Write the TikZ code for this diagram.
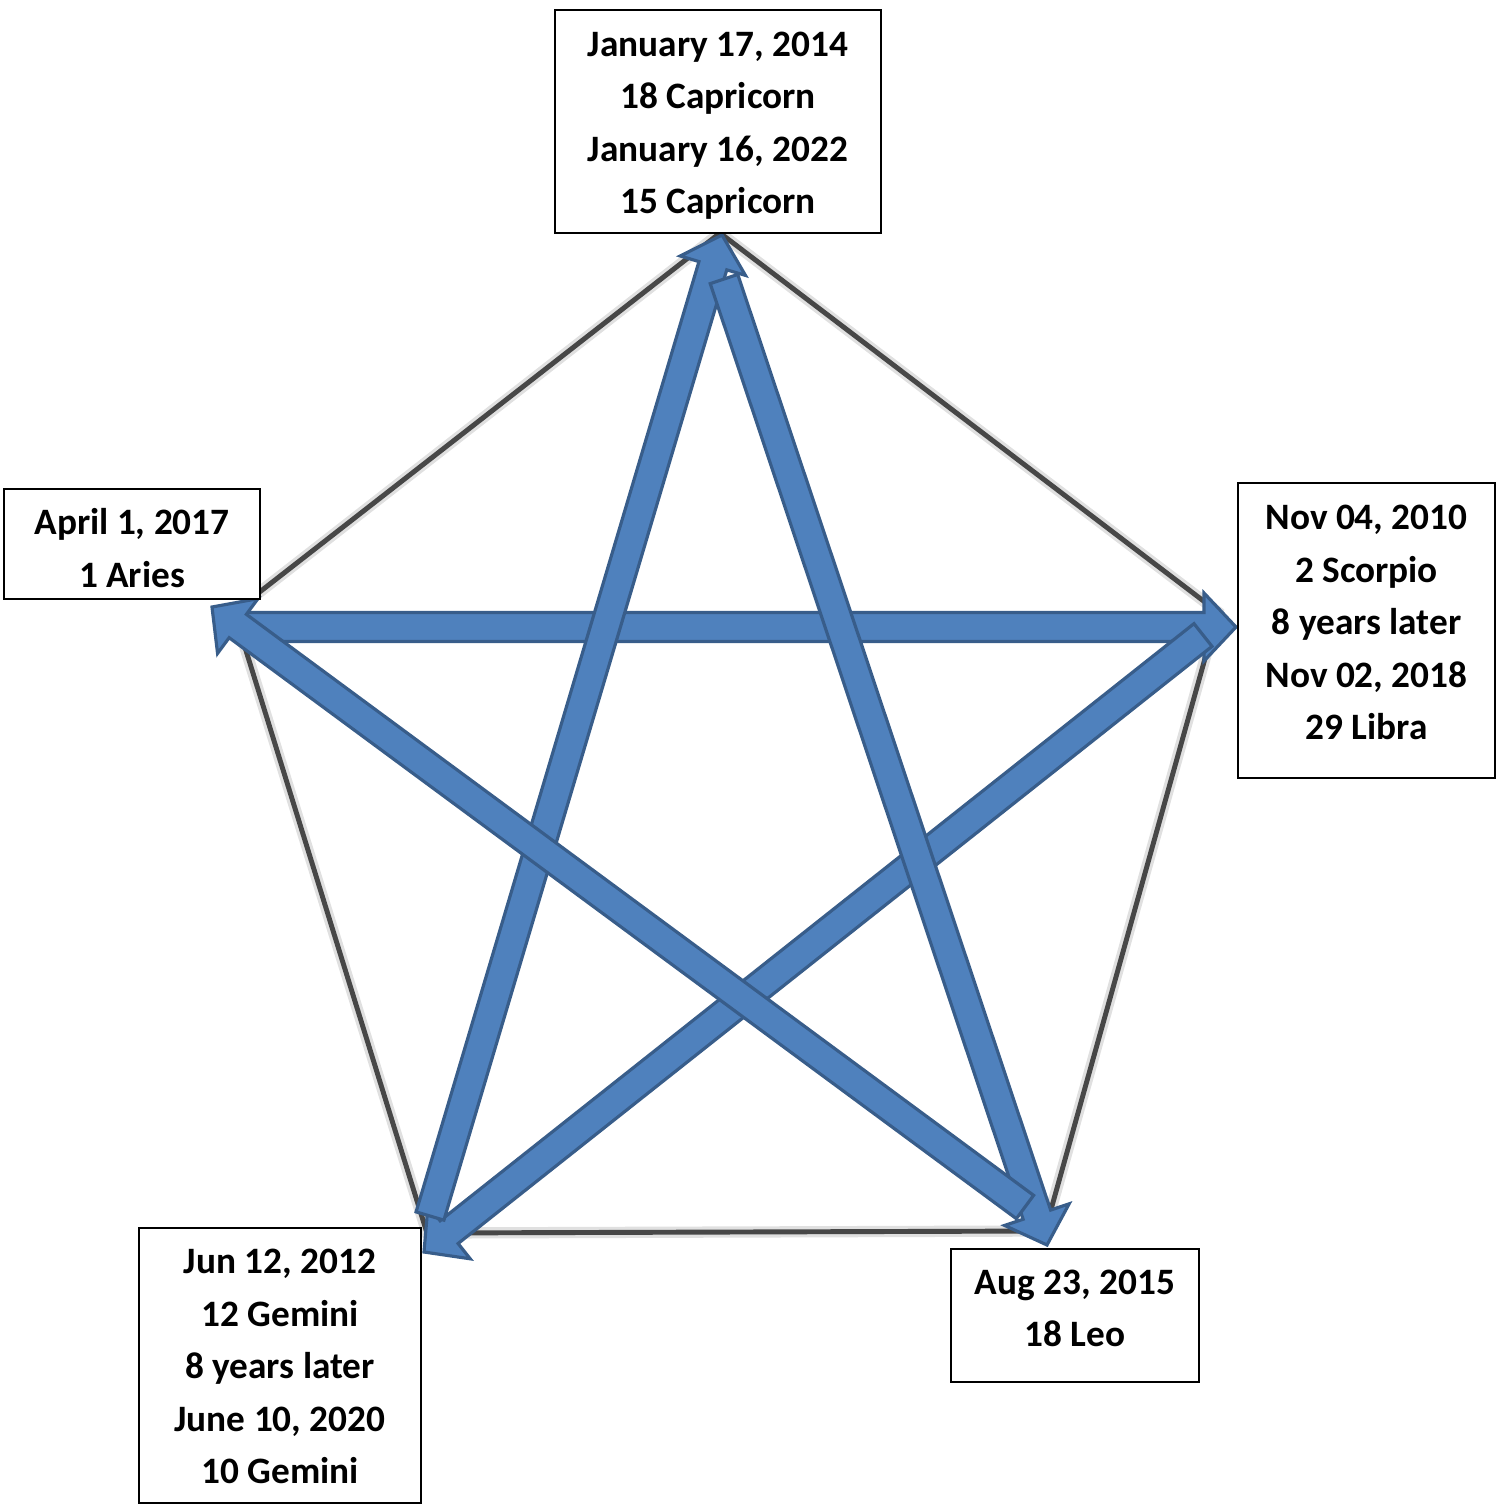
\documentclass[tikz,border=0pt]{standalone}
\usepackage{fontspec}
\setmainfont{Carlito}
\usepackage{xcolor}
\usetikzlibrary{calc}
\definecolor{arrowblue}{HTML}{4F81BD}
\definecolor{arrowedge}{HTML}{385D8A}

\begin{document}
\begin{tikzpicture}[x=0.01cm,y=-0.01cm,
  datebox/.style={draw,line width=0.6pt,fill=white,inner sep=0pt},
  datetext/.style={align=center,inner sep=0pt,
    font=\fontsize{10.6}{14.9}\selectfont\bfseries},
  pentahalo/.style={draw=black!12,line width=3.2pt,line join=miter},
  pentaline/.style={draw=black!72,line width=1.4pt,line join=miter},
  blockarrow/.style={fill=arrowblue,draw=arrowedge,line width=0.9pt,line join=miter}]
\useasboundingbox (0,0) rectangle (1502,1505);
% corners of the pentagon
\coordinate (pT) at (720,233);
\coordinate (pR) at (1218,612);
\coordinate (pBR) at (1045,1231);
\coordinate (pBL) at (427,1233);
\coordinate (pL) at (234,612);
\draw[pentahalo] (pT) -- (pR) -- (pBR) -- (pBL) -- (pL) -- cycle;
\draw[pentaline] (pT) -- (pR) -- (pBR) -- (pBL) -- (pL) -- cycle;
% ends of the five arrows
\coordinate (t1) at (245,627);  \coordinate (h1) at (1236,627);
\coordinate (t2) at (1203,635); \coordinate (h2) at (424,1252);
\coordinate (t3) at (430,1216); \coordinate (h3) at (722,235);
\coordinate (t4) at (724,279);  \coordinate (h4) at (1047,1245);
\coordinate (t5) at (1025,1207); \coordinate (h5) at (212,607);
\foreach \tail/\tip in {t1/h1,t2/h2,t3/h3,t4/h4,t5/h5}{
  \coordinate (hb) at ($(\tip)!0.32cm!(\tail)$);
  \draw[blockarrow] ($(\tail)!0.145cm!90:(\tip)$) -- ($(hb)!0.145cm!90:(\tip)$)
    -- ($(hb)!0.34cm!90:(\tip)$) -- (\tip) -- ($(hb)!0.34cm!-90:(\tip)$)
    -- ($(hb)!0.145cm!-90:(\tip)$) -- ($(\tail)!0.145cm!-90:(\tip)$) -- cycle;
}
% the date boxes
\node[datebox,minimum width=3.26cm,minimum height=2.23cm] (jan) at (718,121.5) {};
\node[datetext] (jantext) at ($(jan)+(0,4)$)
  {January 17, 2014\\18 Capricorn\\January 16, 2022\\15 Capricorn};
\node[datebox,minimum width=2.56cm,minimum height=1.10cm] (apr) at (132,544) {};
\node[datetext] (aprtext) at ($(apr)+(0,4)$)
  {April 1, 2017\\1 Aries};
\node[datebox,minimum width=2.57cm,minimum height=2.95cm] (nov) at (1366.5,630.5) {};
\node[datetext] (novtext) at ($(nov)+(0,-8)$)
  {Nov 04, 2010\\2 Scorpio\\8 years later\\Nov 02, 2018\\29 Libra};
\node[datebox,minimum width=2.48cm,minimum height=1.33cm] (aug) at (1075,1315.5) {};
\node[datetext] (augtext) at ($(aug)+(0,-7)$)
  {Aug 23, 2015\\18 Leo};
\node[datebox,minimum width=2.82cm,minimum height=2.75cm] (jun) at (280,1365.5) {};
\node[datetext] (juntext) at ($(jun)+(0,1)$)
  {Jun 12, 2012\\12 Gemini\\8 years later\\June 10, 2020\\10 Gemini};
\end{tikzpicture}
\end{document}
